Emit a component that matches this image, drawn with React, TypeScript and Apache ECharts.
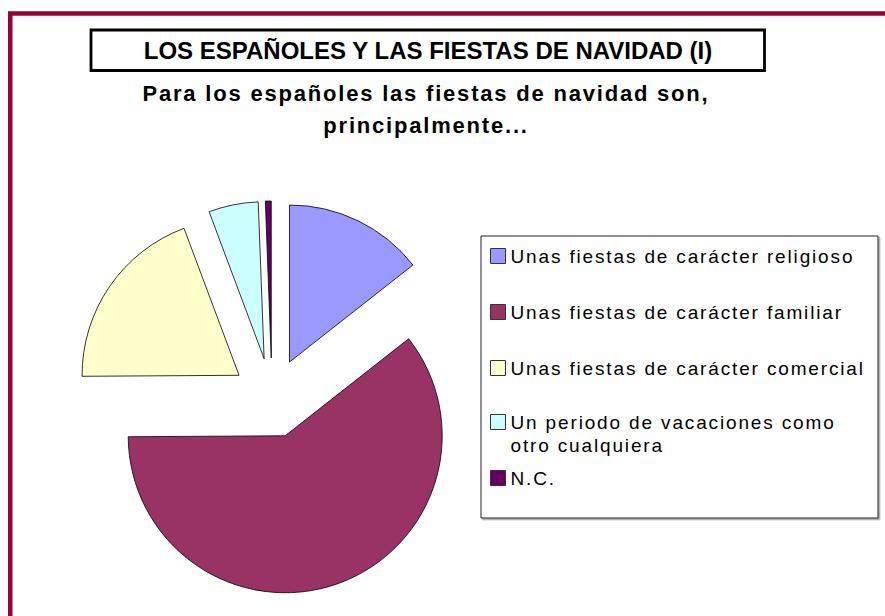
import React, { useEffect, useRef } from 'react';
import * as echarts from 'echarts';

const categories = [
  'Unas fiestas de carácter religioso',
  'Unas fiestas de carácter familiar',
  'Unas fiestas de carácter comercial',
  'Un periodo de vacaciones como otro cualquiera',
  'N.C.',
];
const values = [14.4, 60.5, 19.4, 5.1, 0.6];
const colors = ['#9999FF', '#993366', '#FFFFCC', '#CCFFFF', '#660066'];
const legendLabels = [
  'Unas fiestas de carácter religioso',
  'Unas fiestas de carácter familiar',
  'Unas fiestas de carácter comercial',
  '\nUn periodo de vacaciones como\notro cualquiera',
  'N.C.',
];
const legendCenters = [254, 310, 366, 422, 476];
const titleText = 'LOS ESPAÑOLES Y LAS FIESTAS DE NAVIDAD (I)';
const subtitleLines = ['Para los españoles las fiestas de navidad son,', 'principalmente...'];

const FONT = "'Liberation Sans', Arial, sans-serif";

export default function App() {
  const ref = useRef<HTMLDivElement>(null);

  useEffect(() => {
    if (!ref.current) return;
    const chart = echarts.init(ref.current, null, { renderer: 'svg' });

    const legends = categories.map((name, i) => {
      const multi = legendLabels[i].split('\n').length;
      const lh = multi > 1 ? 23 : 15;
      const blockTop = multi > 1 ? 7.5 - (multi * lh) / 2 : 0;
      return {
        data: [name],
        orient: 'vertical',
        left: 490,
        top: legendCenters[i] - 7.5 + blockTop,
        padding: 0,
        itemWidth: 15,
        itemHeight: 15,
        itemGap: 0,
        icon: 'rect',
        selectedMode: false,
        itemStyle: { borderColor: '#333', borderWidth: 1 },
        formatter: () => legendLabels[i],
        textStyle: {
          fontFamily: FONT,
          fontSize: 19,
          lineHeight: lh,
          color: '#000',
        },
      };
    });

    const option: any = {
      animation: false,
      backgroundColor: '#ffffff',
      title: [
        {
          text: titleText,
          left: 428,
          top: 38,
          textAlign: 'center',
          padding: 0,
          textStyle: {
            fontFamily: FONT,
            fontWeight: 'bold',
            fontSize: 24,
            lineHeight: 24,
            color: '#000',
          },
        },
        {
          text: subtitleLines.join('\n'),
          left: 426,
          top: 77,
          textAlign: 'center',
          padding: 0,
          textStyle: {
            fontFamily: FONT,
            fontWeight: 'bold',
            fontSize: 22,
            lineHeight: 32,
            color: '#000',
          },
        },
      ],
      legend: legends,
      graphic: [
        {
          type: 'rect',
          z: 0,
          shape: { x: 10.25, y: 13.5, width: 1000, height: 1000 },
          style: { fill: 'none', stroke: '#990033', lineWidth: 4.5 },
          silent: true,
        },
        {
          type: 'rect',
          z: 0,
          shape: { x: 91, y: 30, width: 673.5, height: 40.5 },
          style: { fill: '#fff', stroke: '#000', lineWidth: 2.8 },
          silent: true,
        },
        {
          type: 'rect',
          z: 0,
          shape: { x: 481, y: 236, width: 397, height: 282 },
          style: {
            fill: '#fff',
            stroke: '#222',
            lineWidth: 1,
            shadowColor: '#999',
            shadowOffsetX: 1.5,
            shadowOffsetY: 1.5,
            shadowBlur: 0,
          },
          silent: true,
        },
      ],
      series: [
        {
          type: 'pie',
          center: [272, 398],
          radius: 157,
          startAngle: 90,
          clockwise: true,
          selectedMode: 'multiple',
          selectedOffset: 40,
          avoidLabelOverlap: false,
          label: { show: false },
          labelLine: { show: false },
          emphasis: { disabled: true },
          itemStyle: { borderColor: '#000', borderWidth: 0.8 },
          data: categories.map((name, i) => ({
            name,
            value: values[i],
            selected: true,
            itemStyle: { color: colors[i] },
          })),
        },
      ],
    };

    chart.setOption(option);

    const legendLines = new Set<string>();
    legendLabels.forEach((l) => l.split('\n').forEach((s) => s && legendLines.add(s)));
    const subLines = new Set<string>(subtitleLines);
    const applySpacing = () => {
      const root = ref.current;
      if (!root) return;
      root.querySelectorAll('text').forEach((t) => {
        const s = (t.textContent || '').trim();
        if (legendLines.has(s)) t.setAttribute('letter-spacing', '1.85');
        else if (subLines.has(s)) t.setAttribute('letter-spacing', '1.8');
      });
    };
    applySpacing();
    chart.on('finished', applySpacing);

    return () => {
      chart.dispose();
    };
  }, []);

  return (
    <div
      ref={ref}
      style={{ position: 'absolute', left: 0, top: 0, width: 885, height: 616, background: '#fff' }}
    />
  );
}
